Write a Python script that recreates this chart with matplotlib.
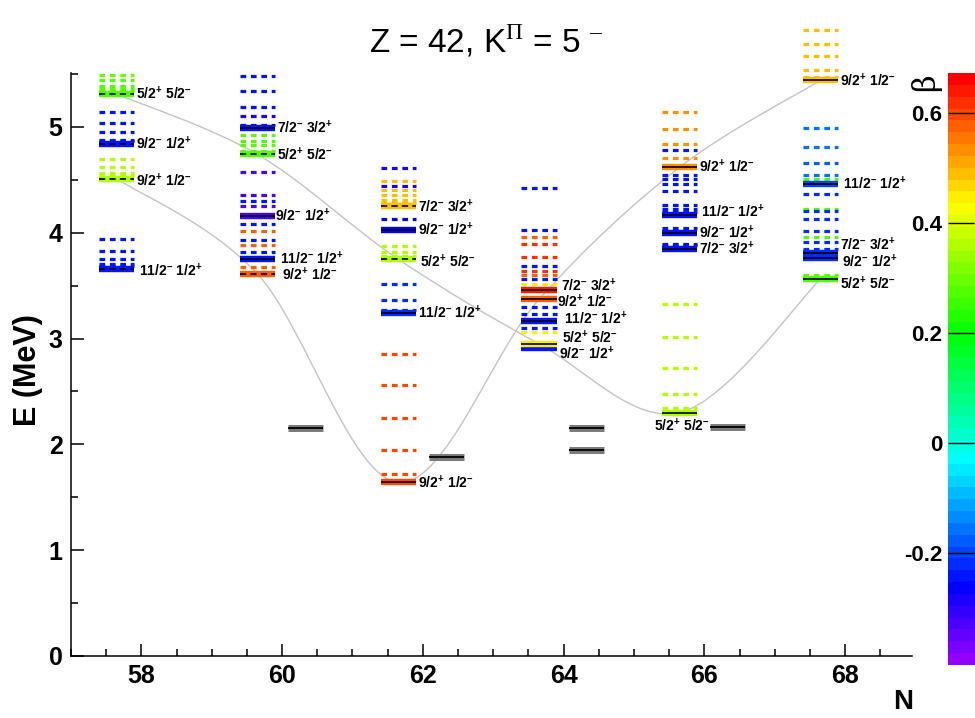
import colorsys
import matplotlib
matplotlib.use('Agg')
import matplotlib.pyplot as plt
from matplotlib.colors import ListedColormap, Normalize
from matplotlib.cm import ScalarMappable
from matplotlib.path import Path
from matplotlib.patches import PathPatch
import numpy as np

plt.rcParams['font.family'] = ['Liberation Sans', 'DejaVu Sans']
plt.rcParams['mathtext.fontset'] = 'custom'
plt.rcParams['mathtext.bf'] = 'Liberation Sans:bold'
plt.rcParams['mathtext.rm'] = 'Liberation Serif'
plt.rcParams['mathtext.default'] = 'bf'
plt.rcParams['lines.scale_dashes'] = False

# band heads: (E MeV, beta, label, black centre line)
heads58 = [(5.31, 0.27, '5/2+ 5/2-', 'dashed'),
           (4.84, -0.25, '9/2- 1/2+', 'dashed'),
           (4.51, 0.37, '9/2+ 1/2-', 'dashed'),
           (3.66, -0.25, '11/2- 1/2+', 'dashed')]
heads60 = [(4.99, -0.24, '7/2- 3/2+', 'solid'),
           (4.74, 0.27, '5/2+ 5/2-', 'dashed'),
           (4.16, -0.32, '9/2- 1/2+', 'solid'),
           (3.75, -0.25, '11/2- 1/2+', 'solid'),
           (3.61, 0.58, '9/2+ 1/2-', 'dashed')]
heads62 = [(4.25, 0.50, '7/2- 3/2+', 'dashed'),
           (4.03, -0.26, '9/2- 1/2+', 'solid'),
           (3.75, 0.37, '5/2+ 5/2-', 'dashed'),
           (3.24, -0.23, '11/2- 1/2+', 'solid'),
           (1.64, 0.60, '9/2+ 1/2-', 'solid')]
heads64 = [(3.46, 0.63, '7/2- 3/2+', 'solid'),
           (3.37, 0.58, '9/2+ 1/2-', 'solid'),
           (3.17, -0.25, '11/2- 1/2+', 'solid'),
           (2.91, -0.25, '9/2- 1/2+', None),
           (2.95, 0.44, '5/2+ 5/2-', 'solid')]
heads66 = [(4.62, 0.535, '9/2+ 1/2-', 'solid'),
           (4.17, -0.25, '11/2- 1/2+', 'solid'),
           (4.00, -0.25, '9/2- 1/2+', 'solid'),
           (3.85, -0.25, '7/2- 3/2+', 'solid'),
           (2.30, 0.36, '5/2+ 5/2-', 'solid')]
heads68 = [(5.44, 0.50, '9/2+ 1/2-', 'solid'),
           (4.46, -0.19, '11/2- 1/2+', 'solid'),
           (3.81, -0.22, '7/2- 3/2+', 'solid'),
           (3.76, -0.22, '9/2- 1/2+', 'solid'),
           (3.56, 0.27, '5/2+ 5/2-', 'solid')]

# excited (band member) levels: (E MeV, beta)
levels58 = [(5.49, 0.30), (5.44, 0.28), (5.39, 0.28), (5.36, 0.27), (5.34, 0.27),
            (5.14, -0.25), (5.04, -0.25), (4.95, -0.25), (4.88, -0.25), (4.87, -0.25),
            (4.70, 0.37), (4.62, 0.37), (4.56, 0.37), (4.54, 0.37),
            (3.94, -0.25), (3.83, -0.25), (3.75, -0.25), (3.70, -0.25), (3.69, -0.25)]
levels60 = [(5.48, -0.24), (5.34, -0.24), (5.19, -0.24), (5.10, -0.28), (5.02, -0.26),
            (4.92, 0.28), (4.87, 0.28), (4.83, 0.27), (4.77, 0.27),
            (4.57, -0.32), (4.36, -0.32), (4.30, -0.24), (4.25, -0.32),
            (4.08, -0.24), (4.02, 0.58), (3.93, -0.24), (3.88, 0.58), (3.82, -0.24),
            (3.68, 0.58)]
levels62 = [(4.61, -0.28), (4.49, 0.50), (4.44, -0.28), (4.40, 0.50), (4.36, 0.50),
            (4.31, 0.50), (4.28, 0.50), (4.13, -0.26),
            (3.87, 0.37), (3.82, 0.37), (3.78, 0.37),
            (3.52, -0.23), (3.36, -0.23), (3.27, -0.23),
            (2.85, 0.60), (2.56, 0.60), (2.25, 0.60), (1.95, 0.60), (1.72, 0.60)]
levels64 = [(4.42, -0.25), (4.03, -0.25), (3.96, 0.58), (3.89, 0.62), (3.77, 0.62),
            (3.69, -0.25), (3.64, 0.62), (3.60, 0.58), (3.56, -0.25), (3.52, 0.44),
            (3.30, -0.25), (3.23, -0.25), (3.10, -0.25), (3.06, 0.44)]
levels66 = [(5.14, 0.535), (4.98, 0.535), (4.84, 0.535), (4.78, -0.25), (4.71, 0.535),
            (4.55, -0.25), (4.51, -0.25), (4.46, -0.25), (4.39, -0.25), (4.26, -0.25),
            (4.22, -0.25), (4.20, -0.25), (4.04, -0.25), (3.89, -0.25), (3.88, -0.25),
            (3.33, 0.36), (3.01, 0.36), (2.72, 0.36), (2.48, 0.36), (2.34, 0.36)]
levels68 = [(5.92, 0.50), (5.78, 0.50), (5.67, 0.50), (5.54, 0.50), (5.47, 0.50),
            (4.99, -0.16), (4.81, -0.16), (4.66, -0.18), (4.55, -0.16), (4.51, 0.27),
            (4.37, -0.22), (4.22, 0.27), (4.21, -0.22), (4.13, -0.22), (4.02, -0.22),
            (3.96, 0.27), (3.91, -0.22), (3.85, -0.22), (3.60, 0.27)]

N_values = [58, 60, 62, 64, 66, 68]
all_heads = [heads58, heads60, heads62, heads64, heads66, heads68]
all_levels = [levels58, levels60, levels62, levels64, levels66, levels68]

# lowest 5/2+ 5/2- and 9/2+ 1/2- configurations, joined by grey curves
curve_52 = [5.31, 4.74, 3.75, 2.95, 2.30, 3.56]
curve_92 = [4.51, 3.61, 1.64, 3.37, 4.62, 5.44]

# experimental levels
exp_N = [60, 62, 64, 64, 66]
exp_E = [2.15, 1.88, 2.15, 1.95, 2.16]

beta_min, beta_max = -0.404, 0.673

# label nudges in pixels (dx, dy)
label_shift = {(58, '9/2+ 1/2-'): (0, -2), (58, '11/2- 1/2+'): (3, -2),
               (60, '9/2- 1/2+'): (-2, 0), (60, '11/2- 1/2+'): (3, 1),
               (60, '9/2+ 1/2-'): (5, -1), (62, '5/2+ 5/2-'): (2, -2),
               (64, '7/2- 3/2+'): (2, 4), (64, '9/2+ 1/2-'): (-2, -2),
               (64, '11/2- 1/2+'): (5, 2), (64, '5/2+ 5/2-'): (3, 6),
               (64, '9/2- 1/2+'): (0, -6), (66, '11/2- 1/2+'): (2, 3),
               (66, '5/2+ 5/2-'): (-45, -13), (68, '11/2- 1/2+'): (3, 0),
               (68, '7/2- 3/2+'): (0, 8), (68, '9/2- 1/2+'): (2, -4),
               (68, '5/2+ 5/2-'): (0, -4)}

# ROOT "pretty" palette: 50 hues from violet to red
pal = []
for i in range(50):
    hue = 280.0 - (i + 1) * 280.0 / 50
    pal.append(colorsys.hls_to_rgb(hue / 360.0, 0.5, 1.0))
cmap = ListedColormap(pal)
norm = Normalize(beta_min, beta_max)


def fmt(lbl):
    # short dash for the negative parity sign
    return ' '.join(t[:-1] + '$^{' + t[-1].replace('-', '–') + '}$' for t in lbl.split())


def smooth_path(xs, ys):
    pts = np.column_stack([xs, ys])
    verts = [pts[0]]
    codes = [Path.MOVETO]
    for i in range(len(pts) - 1):
        p0 = pts[i - 1] if i > 0 else pts[i]
        p1, p2 = pts[i], pts[i + 1]
        p3 = pts[i + 2] if i + 2 < len(pts) else pts[i + 1]
        verts += [p1 + (p2 - p0) / 6.0, p2 - (p3 - p1) / 6.0, p2]
        codes += [Path.CURVE4] * 3
    return Path(verts, codes)


fig = plt.figure(figsize=(9.75, 7.18), dpi=100)
ax = fig.add_axes([0.0728, 0.0864, 0.8626, 0.8120])

cx = [n - 0.35 for n in N_values]
for ys in (curve_52, curve_92):
    ax.add_patch(PathPatch(smooth_path(cx, ys), fill=False, ec='#c4c4c4', lw=1.0, zorder=1))

for n, levels, heads in zip(N_values, all_levels, all_heads):
    x0, x1 = n - 0.6, n - 0.1
    for e, b in levels:
        ax.plot([x0, x1], [e, e], color=cmap(norm(b)), lw=2.3, ls=(0, (4.1, 3.4)),
                dash_capstyle='butt', zorder=2, clip_on=False)
    for e, b, lbl, black in heads:
        ax.plot([x0, x1], [e, e], color=cmap(norm(b)), lw=4.6, solid_capstyle='butt',
                zorder=3, clip_on=False)
        if black == 'solid':
            ax.plot([x0, x1], [e, e], color='k', lw=1.2, solid_capstyle='butt', zorder=4)
        elif black == 'dashed':
            ax.plot([x0, x1], [e, e], color='k', lw=1.2, ls=(0, (4.5, 3.0)),
                    dash_capstyle='butt', zorder=4)
        dx, dy = label_shift.get((n, lbl), (0, 0))
        ax.annotate(fmt(lbl), xy=(x1, e), xytext=(2 + dx, dy), textcoords='offset pixels',
                    ha='left', va='center', fontsize=10, fontweight='bold', zorder=5)

for n, e in zip(exp_N, exp_E):
    ax.plot([n + 0.08, n + 0.58], [e, e], color='#7a7a7a', lw=5.0, solid_capstyle='butt', zorder=3)
    ax.plot([n + 0.08, n + 0.58], [e, e], color='k', lw=1.3, solid_capstyle='butt', zorder=4)

ax.set_xlim(57.0, 68.95)
ax.set_ylim(0, 5.51)
ax.set_xticks(range(58, 69, 2))
ax.set_xticks(np.arange(57, 69, 0.5), minor=True)
ax.set_yticks(range(0, 6))
ax.set_yticks(np.arange(0, 5.6, 0.5), minor=True)
for s in ('top', 'right'):
    ax.spines[s].set_visible(False)
for s in ('left', 'bottom'):
    ax.spines[s].set_linewidth(1.1)
ax.tick_params(which='both', direction='in', width=1.1, labelsize=18, pad=6)
ax.tick_params(which='major', length=9)
ax.tick_params(which='minor', length=5)
for t in ax.get_xticklabels() + ax.get_yticklabels():
    t.set_fontweight('bold')

fig.text(0.029, 0.485, 'E (MeV)', rotation=90, ha='center', va='center',
         fontsize=22, fontweight='bold')
fig.text(0.926, 0.022, 'N', ha='center', va='center', fontsize=20, fontweight='bold')
fig.text(0.4985, 0.944, r'Z = 42, K$^{\mathrm{\Pi}}$ = 5 $^{\mathrm{–}}$', ha='center', va='center',
         fontsize=24, family=['Liberation Sans Narrow', 'Liberation Sans'])

cax = fig.add_axes([0.9723, 0.0738, 0.0277, 0.8245])
cb = fig.colorbar(ScalarMappable(norm=norm, cmap=cmap), cax=cax)
cb.outline.set_visible(False)
cb.set_ticks([-0.2, 0, 0.2, 0.4, 0.6])
cb.set_ticklabels(['-0.2', '0', '0.2', '0.4', '0.6'])
cax.yaxis.set_ticks_position('left')
cax.yaxis.set_label_position('left')
cax.tick_params(direction='in', length=19, width=1, labelsize=16, pad=4)
for t in cax.get_yticklabels():
    t.set_fontweight('bold')
fig.text(0.949, 0.886, 'β', rotation=90, ha='center', va='center', fontsize=22,
         family=['DejaVu Serif'])

fig.savefig('out.png', dpi=100)
